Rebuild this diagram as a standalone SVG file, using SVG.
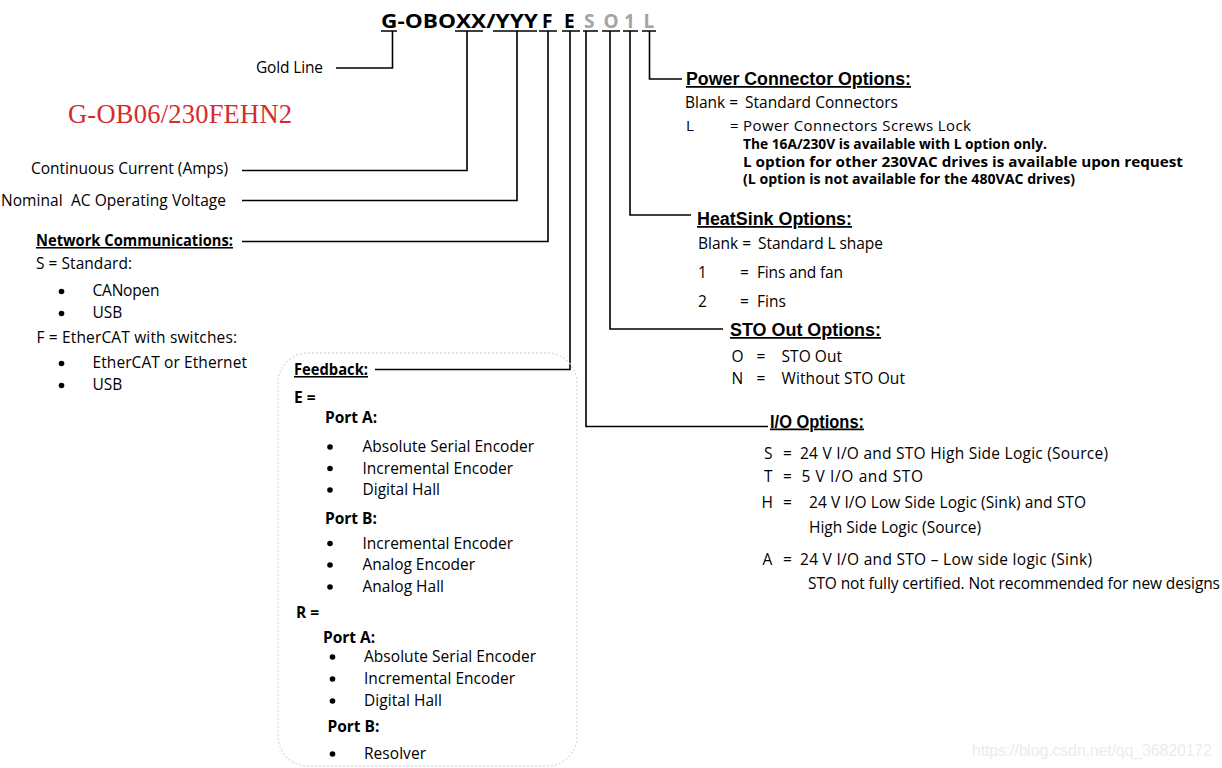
<svg xmlns="http://www.w3.org/2000/svg" width="1222" height="768" viewBox="0 0 1222 768">
<style>
.t{font-family:"Open Sans","Liberation Sans",sans-serif;font-size:15.5px;fill:#000}
.b{font-weight:bold}
.u{text-decoration:underline}
.sb{font-family:"Open Sans","Liberation Sans",sans-serif;font-size:13.5px;font-weight:bold;fill:#000}
.h{font-family:"Liberation Sans",Arial,sans-serif;font-weight:bold;font-size:17.5px;fill:#000;text-decoration:underline}
.ti{font-family:"Open Sans","Liberation Sans",sans-serif;font-weight:bold;font-size:19px;fill:#000}
.g{fill:#a3a3a3}
.c{fill:none;stroke:#000;stroke-width:1.6}
.ul{stroke:#000;stroke-width:1.5}
.dot{fill:#000}
</style>
<rect width="1222" height="768" fill="#fff"/>

<g id="title">
  <text class="ti" x="381" y="27.5" textLength="157" lengthAdjust="spacingAndGlyphs">G-OBOXX/YYY</text>
  <text class="ti" x="542" y="27.5">F</text>
  <text class="ti" x="564" y="27.5">E</text>
  <text class="ti g" x="584" y="27.5">S</text>
  <text class="ti g" x="603.5" y="27.5">O</text>
  <text class="ti g" x="624" y="27.5">1</text>
  <text class="ti g" x="643.5" y="27.5">L</text>
  <g class="ul">
    <line x1="381" y1="31" x2="397" y2="31"/>
    <line x1="455" y1="31" x2="483" y2="31"/>
    <line x1="493" y1="31" x2="537" y2="31"/>
    <line x1="539" y1="31" x2="557" y2="31"/>
    <line x1="562" y1="31" x2="580" y2="31"/>
    <line x1="583" y1="31" x2="598" y2="31"/>
    <line x1="602" y1="31" x2="620" y2="31"/>
    <line x1="623" y1="31" x2="638" y2="31"/>
    <line x1="642" y1="31" x2="656" y2="31"/>
  </g>
</g>

<g id="connectors">
  <path class="c" d="M392.5,31 V68 H336"/>
  <path class="c" d="M467,31 V170.5 H242"/>
  <path class="c" d="M517,31 V200.5 H242"/>
  <path class="c" d="M548,31 V241.5 H242"/>
  <path class="c" d="M570,31 V369.5 H375"/>
  <path class="c" d="M586,31 V426.5 H768"/>
  <path class="c" d="M610,31 V329 H723"/>
  <path class="c" d="M630,31 V215 H691"/>
  <path class="c" d="M649.5,31 V79 H682"/>
</g>

<g id="example">
  <text x="68" y="123" font-family="'Liberation Serif',serif" font-size="26.5" fill="#d52b2b" textLength="224">G-OB06/230FEHN2</text>
</g>

<g id="gold-line">
  <text class="t" x="256" y="73" textLength="67">Gold Line</text>
</g>

<g id="current">
  <text class="t" x="31" y="174" textLength="197">Continuous Current (Amps)</text>
</g>

<g id="voltage">
  <text class="t" x="1" y="206" textLength="225" xml:space="preserve">Nominal  AC Operating Voltage</text>
</g>

<g id="network">
  <text class="t b u" x="36" y="246" textLength="197" lengthAdjust="spacingAndGlyphs">Network Communications:</text>
  <text class="t" x="36" y="269" textLength="96">S = Standard:</text>
  <circle class="dot" cx="61.5" cy="291.5" r="2.8"/>
  <text class="t" x="92.5" y="296" textLength="67">CANopen</text>
  <circle class="dot" cx="61.5" cy="313.5" r="2.8"/>
  <text class="t" x="92.5" y="318">USB</text>
  <text class="t" x="36.5" y="343" textLength="200.5">F = EtherCAT with switches:</text>
  <circle class="dot" cx="61.5" cy="363.5" r="2.8"/>
  <text class="t" x="92.5" y="368" textLength="154.5">EtherCAT or Ethernet</text>
  <circle class="dot" cx="61.5" cy="385.5" r="2.8"/>
  <text class="t" x="92.5" y="390">USB</text>
</g>

<g id="feedback">
  <rect x="278" y="353" width="299" height="413" rx="30" ry="30" fill="none" stroke="#dadada" stroke-width="1.3" stroke-dasharray="2 2"/>
  <text class="t b u" x="294" y="375" textLength="74" lengthAdjust="spacingAndGlyphs">Feedback:</text>
  <text class="t b" x="294" y="403">E =</text>
  <text class="t b" x="325" y="423">Port A:</text>
  <circle class="dot" cx="330" cy="447" r="2.8"/>
  <text class="t" x="362.5" y="452" textLength="171.5">Absolute Serial Encoder</text>
  <circle class="dot" cx="330" cy="468.5" r="2.8"/>
  <text class="t" x="362.5" y="473.5" textLength="150.5">Incremental Encoder</text>
  <circle class="dot" cx="330" cy="490" r="2.8"/>
  <text class="t" x="362.5" y="495" textLength="77.5">Digital Hall</text>
  <text class="t b" x="325" y="524">Port B:</text>
  <circle class="dot" cx="330" cy="543.5" r="2.8"/>
  <text class="t" x="362.5" y="548.5" textLength="150.5">Incremental Encoder</text>
  <circle class="dot" cx="330" cy="565" r="2.8"/>
  <text class="t" x="362.5" y="570" textLength="112.5">Analog Encoder</text>
  <circle class="dot" cx="330" cy="587" r="2.8"/>
  <text class="t" x="362.5" y="592" textLength="81.5">Analog Hall</text>
  <text class="t b" x="296" y="617.5">R =</text>
  <text class="t b" x="323" y="642.5">Port A:</text>
  <circle class="dot" cx="332.5" cy="657" r="2.8"/>
  <text class="t" x="364" y="662" textLength="172">Absolute Serial Encoder</text>
  <circle class="dot" cx="332.5" cy="679" r="2.8"/>
  <text class="t" x="364" y="684" textLength="151">Incremental Encoder</text>
  <circle class="dot" cx="332.5" cy="701" r="2.8"/>
  <text class="t" x="364" y="706" textLength="78">Digital Hall</text>
  <text class="t b" x="327.5" y="732">Port B:</text>
  <circle class="dot" cx="332.5" cy="754" r="2.8"/>
  <text class="t" x="364" y="759" textLength="62">Resolver</text>
</g>

<g id="power-connector">
  <text class="h" x="686" y="85" textLength="225" lengthAdjust="spacingAndGlyphs">Power Connector Options:</text>
  <text class="t" x="685" y="108">Blank =</text>
  <text class="t" x="745" y="108" textLength="153">Standard Connectors</text>
  <text class="t" x="686" y="130.5" style="font-size:15px">L</text>
  <text class="t" x="730" y="130.5" style="font-size:15px">=</text>
  <text class="t" x="743" y="130.5" style="font-size:15px" textLength="228">Power Connectors Screws Lock</text>
  <text class="sb" x="743" y="149" textLength="304" lengthAdjust="spacingAndGlyphs">The 16A/230V is available with L option only.</text>
  <text class="sb" x="743" y="166.5" textLength="440" lengthAdjust="spacingAndGlyphs">L option for other 230VAC drives is available upon request</text>
  <text class="sb" x="743" y="184" textLength="332" lengthAdjust="spacingAndGlyphs">(L option is not available for the 480VAC drives)</text>
</g>

<g id="heatsink">
  <text class="h" x="697" y="225" textLength="155" lengthAdjust="spacingAndGlyphs">HeatSink Options:</text>
  <text class="t" x="698" y="248.5">Blank =</text>
  <text class="t" x="758" y="248.5" textLength="125">Standard L shape</text>
  <text class="t" x="698" y="278">1</text>
  <text class="t" x="740" y="278">=</text>
  <text class="t" x="757" y="278" textLength="86">Fins and fan</text>
  <text class="t" x="698" y="306.5">2</text>
  <text class="t" x="740" y="306.5">=</text>
  <text class="t" x="757" y="306.5">Fins</text>
</g>

<g id="sto-out">
  <text class="h" x="730" y="336" textLength="151" lengthAdjust="spacingAndGlyphs">STO Out Options:</text>
  <text class="t" x="731.5" y="361.5">O</text>
  <text class="t" x="756.5" y="361.5">=</text>
  <text class="t" x="781.5" y="361.5" textLength="60.5">STO Out</text>
  <text class="t" x="731.5" y="383.5">N</text>
  <text class="t" x="756.5" y="383.5">=</text>
  <text class="t" x="781.5" y="383.5" textLength="123.5">Without STO Out</text>
</g>

<g id="io">
  <text class="h" x="770" y="427.5" textLength="94" lengthAdjust="spacingAndGlyphs">I/O Options:</text>
  <text class="t" x="764" y="458.5">S</text>
  <text class="t" x="783" y="458.5">=</text>
  <text class="t" x="800" y="458.5" textLength="308">24 V I/O and STO High Side Logic (Source)</text>
  <text class="t" x="764" y="482">T</text>
  <text class="t" x="783" y="482">=</text>
  <text class="t" x="801.5" y="482" textLength="121.5">5 V I/O and STO</text>
  <text class="t" x="761.5" y="507.5">H</text>
  <text class="t" x="783" y="507.5">=</text>
  <text class="t" x="809" y="507.5" textLength="277">24 V I/O Low Side Logic (Sink) and STO</text>
  <text class="t" x="809" y="533" textLength="172">High Side Logic (Source)</text>
  <text class="t" x="762.5" y="565">A</text>
  <text class="t" x="783" y="565">=</text>
  <text class="t" x="800" y="565" textLength="292">24 V I/O and STO – Low side logic (Sink)</text>
  <text class="t" x="808" y="588.5" textLength="412">STO not fully certified. Not recommended for new designs</text>
</g>

<text x="972" y="756" font-family="'Liberation Sans',Arial,sans-serif" font-size="16" fill="#ececec" textLength="240">https://blog.csdn.net/qq_36820172</text>
</svg>
